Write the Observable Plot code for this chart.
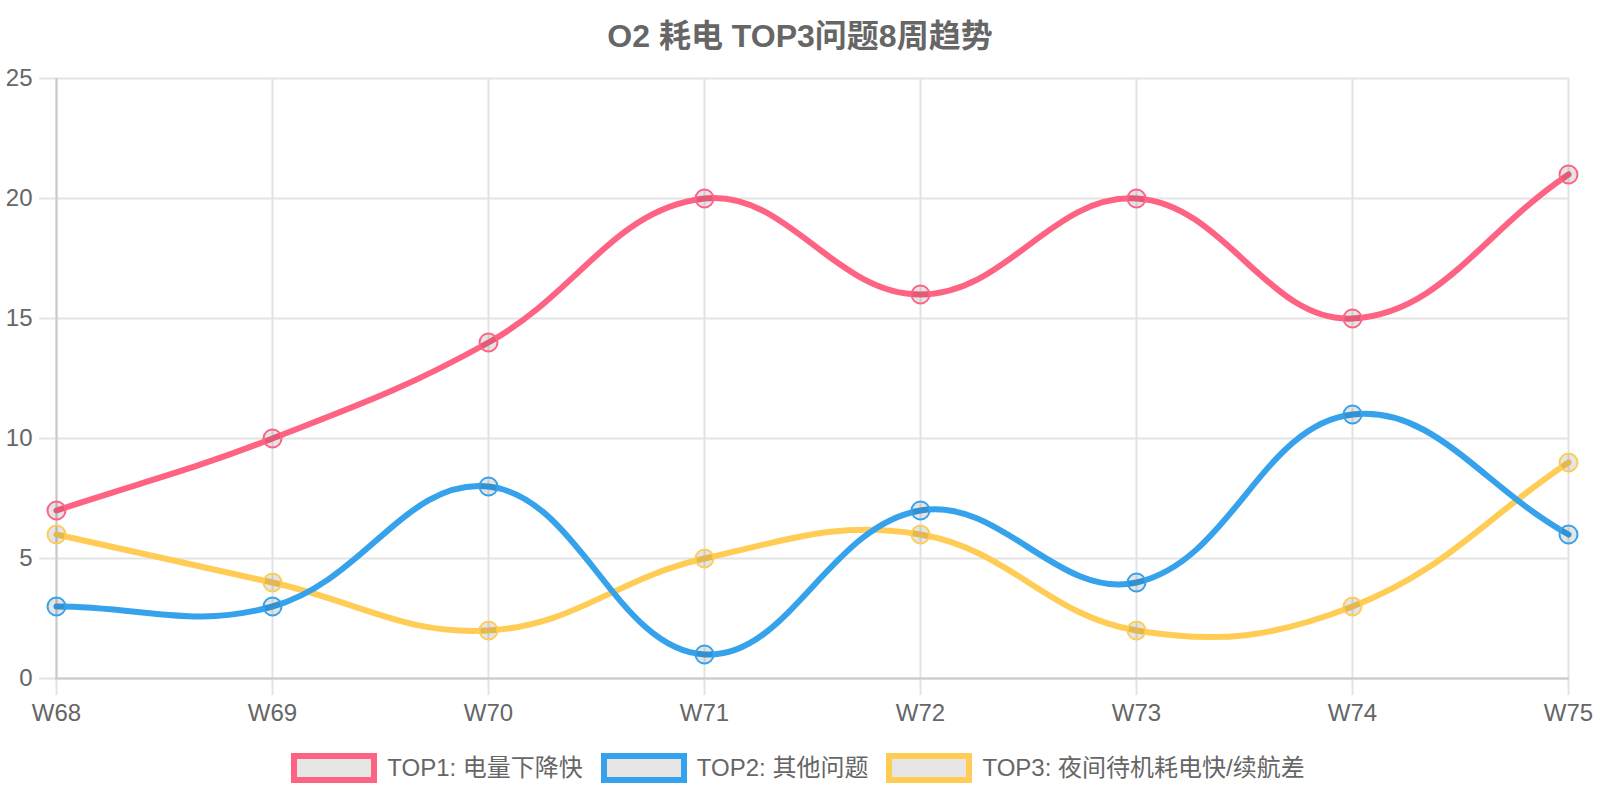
<!DOCTYPE html>
<html>
<head>
<meta charset="utf-8">
<script src="https://cdn.jsdelivr.net/npm/d3@7"></script>
<script src="https://cdn.jsdelivr.net/npm/@observablehq/plot@0.6"></script>
<style>
  body { margin: 0; background: #fff; }
  #wrap { position: relative; width: 1600px; height: 800px; font-family: "Liberation Sans", Arial, "Noto Sans CJK SC", sans-serif; color: #666; }
  #title { position: absolute; top: 0; left: 0; width: 1600px; height: 72px; line-height: 72px; text-align: center; font-weight: bold; font-size: 32px; color: #666; }
  #chart { position: absolute; top: 60px; left: 0; }
  #legend { position: absolute; top: 753px; left: 0; width: 1596px; height: 30px; display: flex; justify-content: center; align-items: center; gap: 18px; }
  .item { display: flex; align-items: center; gap: 10px; }
  .box { width: 74px; height: 18px; border: 6px solid; background: #e6e6e6; }
  .lbl { font-size: 24px; line-height: 30px; color: #666; white-space: nowrap; }
</style>
</head>
<body>
<div id="wrap">
  <div id="title"></div>
  <div id="chart"></div>
  <div id="legend"></div>
</div>
<script>
const titleText = "O2 耗电 TOP3问题8周趋势";
const weeks = ["W68", "W69", "W70", "W71", "W72", "W73", "W74", "W75"];
const seriesNames = ["TOP1: 电量下降快", "TOP2: 其他问题", "TOP3: 夜间待机耗电快/续航差"];
const top1 = [7, 10, 14, 20, 16, 20, 15, 21];
const top2 = [3, 3, 8, 1, 7, 4, 11, 6];
const top3 = [6, 4, 2, 5, 6, 2, 3, 9];
const colors = ["#ff6384", "#36a2eb", "#ffcd56"];
const yTicks = [0, 5, 10, 15, 20, 25];

const seriesValues = [top1, top2, top3];
const rows = seriesValues.flatMap((vals, s) =>
  vals.map((v, i) => ({week: weeks[i], value: v, series: seriesNames[s], idx: s})));

const W = 1600, H = 680;
const mL = 55, mR = 31, mT = 18, mB = 62;

// Chart.js-style spline (tension 0.4) with control points capped to the plot area
function chartjsCurve(context) {
  let pts;
  const clampX = v => Math.max(mL, Math.min(W - mR, v));
  const clampY = v => Math.max(mT, Math.min(H - mB, v));
  return {
    areaStart() {}, areaEnd() {},
    lineStart() { pts = []; },
    point(x, y) { pts.push([+x, +y]); },
    lineEnd() {
      const n = pts.length;
      if (!n) return;
      const t = 0.4;
      const cp = pts.map((p, i) => {
        const prev = pts[i - 1] || p, next = pts[i + 1] || p;
        const d01 = Math.hypot(p[0] - prev[0], p[1] - prev[1]);
        const d12 = Math.hypot(next[0] - p[0], next[1] - p[1]);
        let s01 = d01 / (d01 + d12), s12 = d12 / (d01 + d12);
        if (isNaN(s01)) s01 = 0;
        if (isNaN(s12)) s12 = 0;
        const fa = t * s01, fb = t * s12;
        const dx = next[0] - prev[0], dy = next[1] - prev[1];
        return {px: clampX(p[0] - fa * dx), py: clampY(p[1] - fa * dy),
                nx: clampX(p[0] + fb * dx), ny: clampY(p[1] + fb * dy)};
      });
      context.moveTo(pts[0][0], pts[0][1]);
      for (let i = 1; i < n; i++) {
        context.bezierCurveTo(cp[i - 1].nx, cp[i - 1].ny, cp[i].px, cp[i].py, pts[i][0], pts[i][1]);
      }
    }
  };
}

const gridColor = "#e3e3e3";
const axisColor = "#c9c9c9";

const marks = [
  Plot.gridY(yTicks, {stroke: gridColor, strokeOpacity: 1, strokeWidth: 2}),
  Plot.gridX(weeks, {stroke: gridColor, strokeOpacity: 1, strokeWidth: 2}),
  Plot.axisY(yTicks, {tickSize: 16, tickPadding: 7, stroke: gridColor, strokeWidth: 2, fill: "#666", fontSize: 24, label: null}),
  Plot.axisX(weeks, {tickSize: 17, tickPadding: 8, stroke: gridColor, strokeWidth: 2, fill: "#666", fontSize: 24, label: null}),
  Plot.ruleX([weeks[0]], {stroke: axisColor, strokeWidth: 2}),
  Plot.ruleY([0], {stroke: axisColor, strokeWidth: 2}),
];
// draw last dataset first so TOP1 ends on top (Chart.js order)
for (let s = seriesNames.length - 1; s >= 0; s--) {
  const d = rows.filter(r => r.idx === s);
  marks.push(Plot.line(d, {x: "week", y: "value", stroke: colors[s], strokeWidth: 6, curve: chartjsCurve}));
  marks.push(Plot.dot(d, {x: "week", y: "value", r: 9, fill: "rgba(0,0,0,0.1)", stroke: colors[s], strokeWidth: 2}));
}

const chart = Plot.plot({
  width: W, height: H,
  marginLeft: mL, marginRight: mR, marginTop: mT, marginBottom: mB,
  style: {fontFamily: "'Liberation Sans', Arial, 'Noto Sans CJK SC', sans-serif", fontSize: "24px", color: "#666", background: "transparent", overflow: "visible"},
  x: {type: "point", domain: weeks, padding: 0, axis: null},
  y: {domain: [0, 25], axis: null},
  marks
});
document.getElementById("chart").appendChild(chart);
document.getElementById("title").textContent = titleText;

const legend = document.getElementById("legend");
seriesNames.forEach((name, i) => {
  const item = document.createElement("div");
  item.className = "item";
  const box = document.createElement("div");
  box.className = "box";
  box.style.borderColor = colors[i];
  const lbl = document.createElement("span");
  lbl.className = "lbl";
  lbl.textContent = name;
  item.appendChild(box);
  item.appendChild(lbl);
  legend.appendChild(item);
});
</script>
</body>
</html>
